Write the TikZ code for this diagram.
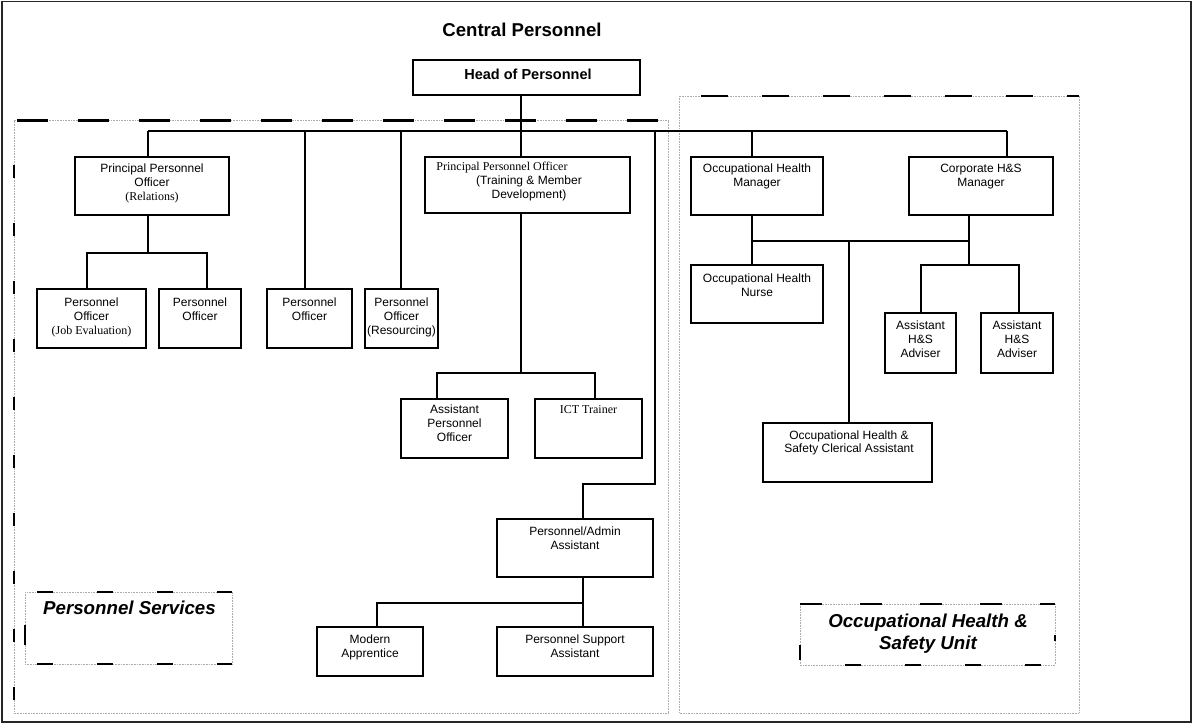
\documentclass[tikz,border=0pt]{standalone}
\usepackage{fontspec}
\setmainfont{Liberation Sans}
\newfontfamily\tms{Liberation Serif}
\begin{document}
\begin{tikzpicture}[x=1pt,y=-1pt,
  box/.style={draw, line width=1.8pt, inner sep=0pt, outer sep=0pt},
  conn/.style={line width=1.8pt},
  txt/.style={anchor=base, align=center, inner sep=0pt, font=\fontsize{12}{14}\selectfont},
  region/.style={draw=gray!65, line width=0.8pt, dash pattern=on 0.8pt off 0.8pt},
  thickdash/.style={line width=2.4pt, dash pattern=on 31pt off 30pt},
  lbldash/.style={line width=2pt, dash pattern=on 16pt off 44pt},
  lbl/.style={inner sep=0pt, font=\fontsize{18.7}{22}\selectfont\bfseries\itshape}
]
\newcommand\obox[5]{\node[box, minimum width=#4pt, minimum height=#5pt] (#1) at (#2,#3) {};}
\useasboundingbox (0,0) rectangle (1193,726);
\fill[white] (0,0) rectangle (1193,726);
% outer frame
\draw[line width=1.5pt, black!85] (2,1.5) rectangle (1191,722);

% regions
\draw[region] (14,120.5) rectangle (668,713);
\draw[thickdash] (17,120.5) -- (668,120.5);
\draw[line width=2.2pt, dash pattern=on 13pt off 45pt] (14,165) -- (14,713);
\draw[region] (679,96) rectangle (1079,713);
\draw[line width=2.4pt, dash pattern=on 27pt off 34pt] (701,96) -- (1079,96);

% label boxes
\draw[region] (25,592) rectangle (232,664);
\draw[lbldash] (37,592) -- (232,592);
\draw[lbldash] (37,664) -- (232,664);
\draw[line width=2pt] (25,625) -- (25,645);
\node[lbl, anchor=base west] (psLabel) at (43,614) {Personnel Services};

\draw[region] (800,604) rectangle (1055,665);
\draw[line width=2pt, dash pattern=on 22pt off 38pt] (800,604) -- (1055,604);
\draw[line width=2pt, dash pattern=on 16pt off 44pt] (845,665) -- (1055,665);
\draw[line width=2pt] (800,645) -- (800,660);
\draw[line width=2pt] (1055,635) -- (1055,641);
\node[lbl, anchor=base, align=center] (ohLabel) at (928,649) {Occupational Health \&\\Safety Unit};

% title
\node[inner sep=0pt, anchor=base, font=\fontsize{18.6}{22}\selectfont\bfseries] (title) at (522,36) {Central Personnel};

% boxes
\obox{head}{526.5}{77.5}{227}{35}
\obox{ppoR}{152}{186}{154}{58}
\obox{ppoT}{527.5}{185}{205}{56}
\obox{ohm}{757}{186}{132}{58}
\obox{corp}{981}{186}{144}{58}
\obox{po1}{91.5}{318.5}{109}{59}
\obox{po2}{200}{318.5}{82}{59}
\obox{po3}{309.5}{318.5}{85}{59}
\obox{po4}{401.5}{318.5}{73}{59}
\obox{nurse}{757}{294}{132}{58}
\obox{adv1}{920.5}{343}{71}{60}
\obox{adv2}{1017}{343}{72}{60}
\obox{apo}{454.5}{428.5}{107}{59}
\obox{ict}{588.5}{428.5}{107}{59}
\obox{ohsca}{847.5}{452.5}{169}{59}
\obox{admin}{575}{548}{156}{58}
\obox{ma}{370}{651.5}{106}{49}
\obox{psa}{575}{651.5}{156}{49}

% texts (anchor base = baseline of the last line)
\node[inner sep=0pt, anchor=base, font=\fontsize{14.5}{17}\selectfont\bfseries] (headT) at (528,79) {Head of Personnel};
\node[txt] (ppoRT) at (152,200) {Principal Personnel\\Officer\\{\tms (Relations)}};
\node[txt, font=\fontsize{12}{14}\tms] (ppoTT1) at (502,170) {Principal Personnel Officer};
\node[txt] (ppoTT2) at (529,198) {(Training \& Member\\Development)};
\node[txt] (ohmT) at (757,186) {Occupational Health\\Manager};
\node[txt] (corpT) at (981,186) {Corporate H\&S\\Manager};
\node[txt] (po1T) at (91.5,334) {Personnel\\Officer\\{\tms (Job Evaluation)}};
\node[txt] (po2T) at (200,320) {Personnel\\Officer};
\node[txt] (po3T) at (309.5,320) {Personnel\\Officer};
\node[txt] (po4T) at (401.5,334) {Personnel\\Officer\\(Resourcing)};
\node[txt] (nurseT) at (757,296) {Occupational Health\\Nurse};
\node[txt] (adv1T) at (920.5,357) {Assistant\\H\&S\\Adviser};
\node[txt] (adv2T) at (1017,357) {Assistant\\H\&S\\Adviser};
\node[txt] (apoT) at (454.5,441) {Assistant\\Personnel\\Officer};
\node[txt, font=\fontsize{12}{14}\tms] (ictT) at (588.5,413) {ICT Trainer};
\node[txt, font=\fontsize{12}{13}\selectfont] (ohscaT) at (849,452) {Occupational Health \&\\Safety Clerical Assistant};
\node[txt] (adminT) at (575,549) {Personnel/Admin\\Assistant};
\node[txt] (maT) at (370,657) {Modern\\Apprentice};
\node[txt] (psaT) at (575,657) {Personnel Support\\Assistant};

% junction coordinates
\coordinate (cT) at (521,131);
\coordinate (busL) at (148,131);
\coordinate (busR) at (1007,131);
\coordinate (c3) at (305,131);
\coordinate (c4) at (401,131);
\coordinate (c5) at (655,131);
\coordinate (c5b) at (655,484);
\coordinate (c5c) at (583,484);
\coordinate (c6) at (752,131);
\coordinate (r1) at (87,253);
\coordinate (r2) at (207,253);
\coordinate (rm) at (148,253);
\coordinate (t1) at (437,373);
\coordinate (t2) at (595,373);
\coordinate (tm) at (521,373);
\coordinate (a1) at (377,603);
\coordinate (a2) at (583,603);
\coordinate (o1) at (752,241);
\coordinate (o2) at (969,241);
\coordinate (o3) at (849,241);
\coordinate (h1) at (921,265);
\coordinate (h2) at (1019,265);
\coordinate (hm) at (969,265);

% connectors
\draw[conn] (head.south -| cT) -- (ppoT.north -| cT);
\draw[conn] (busL) -- (busR);
\draw[conn] (busL) -- (ppoR.north -| busL);
\draw[conn] (c3) -- (po3.north -| c3);
\draw[conn] (c4) -- (po4.north -| c4);
\draw[conn] (c5) -- (c5b) -- (c5c) -- (admin.north -| c5c);
\draw[conn] (c6) -- (ohm.north -| c6);
\draw[conn] (busR) -- (corp.north -| busR);
\draw[conn] (ppoR.south -| rm) -- (rm);
\draw[conn] (po1.north -| r1) -- (r1) -- (r2) -- (po2.north -| r2);
\draw[conn] (ppoT.south -| tm) -- (tm);
\draw[conn] (apo.north -| t1) -- (t1) -- (t2) -- (ict.north -| t2);
\draw[conn] (admin.south -| a2) -- (a2);
\draw[conn] (ma.north -| a1) -- (a1) -- (a2) -- (psa.north -| a2);
\draw[conn] (ohm.south -| o1) -- (nurse.north -| o1);
\draw[conn] (o1) -- (o2);
\draw[conn] (corp.south -| o2) -- (hm);
\draw[conn] (o3) -- (ohsca.north -| o3);
\draw[conn] (adv1.north -| h1) -- (h1) -- (h2) -- (adv2.north -| h2);
\end{tikzpicture}
\end{document}
